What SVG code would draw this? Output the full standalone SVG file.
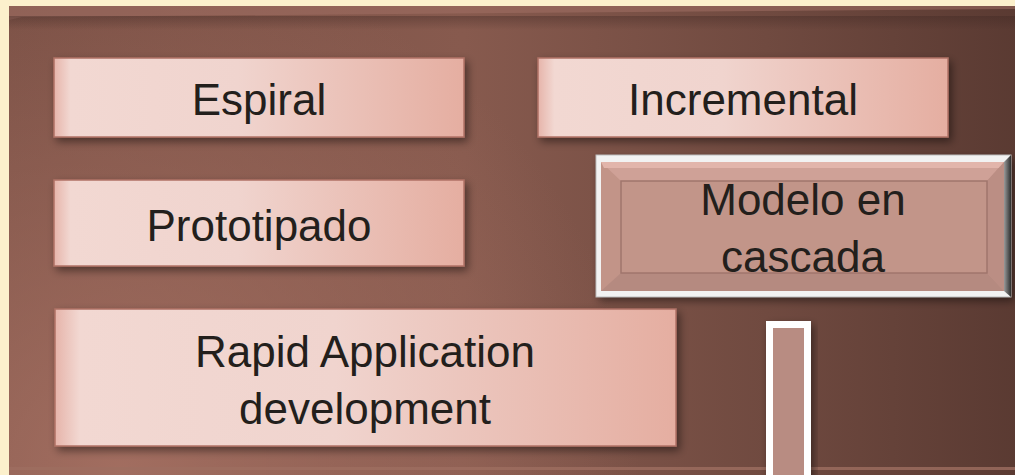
<svg xmlns="http://www.w3.org/2000/svg" width="1015" height="475" viewBox="0 0 1015 475">
  <defs>
    <style>
      .lbl { font-family: "Liberation Sans", Arial, sans-serif; font-size: 44px; fill: #231F1C; text-anchor: middle; }
      .box { fill: url(#boxGrad); stroke: #B07266; stroke-width: 1.5; filter: url(#shadow); }
    </style>
    <linearGradient id="panelGrad" x1="0" y1="0" x2="1" y2="0">
      <stop offset="0" stop-color="#7A5045"/>
      <stop offset="0.45" stop-color="#875A4E"/>
      <stop offset="0.75" stop-color="#704A40"/>
      <stop offset="1" stop-color="#5A3A32"/>
    </linearGradient>
    <radialGradient id="panelGlow" cx="120" cy="470" r="520" gradientUnits="userSpaceOnUse">
      <stop offset="0" stop-color="#A87264" stop-opacity="0.85"/>
      <stop offset="1" stop-color="#A87264" stop-opacity="0"/>
    </radialGradient>
    <linearGradient id="panelTopShade" x1="0" y1="0" x2="0" y2="1">
      <stop offset="0" stop-color="#3A2420" stop-opacity="0.35"/>
      <stop offset="1" stop-color="#3A2420" stop-opacity="0"/>
    </linearGradient>
    <linearGradient id="boxGrad" x1="0" y1="0" x2="1" y2="0">
      <stop offset="0" stop-color="#E6B4AA"/>
      <stop offset="0.04" stop-color="#F2D8D2"/>
      <stop offset="0.45" stop-color="#F0D4CE"/>
      <stop offset="1" stop-color="#E5AEA1"/>
    </linearGradient>
    <linearGradient id="rightEdge" x1="0" y1="0" x2="1" y2="0">
      <stop offset="0" stop-color="#9A9A9A"/>
      <stop offset="1" stop-color="#2E2E2E"/>
    </linearGradient>
    <filter id="shadow" x="-10%" y="-10%" width="125%" height="130%">
      <feDropShadow dx="3" dy="4" stdDeviation="4" flood-color="#000" flood-opacity="0.45"/>
    </filter>
  </defs>

  <!-- background -->
  <rect x="0" y="0" width="1015" height="475" fill="#FCF0CC"/>
  <g id="panel">
    <rect x="9" y="6" width="1010" height="475" fill="url(#panelGrad)"/>
    <rect x="9" y="6" width="1010" height="475" fill="url(#panelGlow)"/>
    <rect x="9" y="6" width="120" height="475" fill="url(#panelTopShade)" opacity="0"/>
    <polygon points="9,6 1015,6 1015,9 22,17 9,20" fill="#A07064" opacity="0.55"/>
    <rect x="9" y="16" width="1006" height="14" fill="url(#panelTopShade)"/>
    <rect x="9" y="467" width="1006" height="3" fill="#9E6E60" opacity="0.8"/>
  </g>

  <g id="node-espiral">
    <rect class="box" x="54" y="58" width="410" height="79"/>
    <text class="lbl" x="259" y="115">Espiral</text>
  </g>

  <g id="node-incremental">
    <rect class="box" x="538" y="58" width="410" height="79"/>
    <text class="lbl" x="743" y="115">Incremental</text>
  </g>

  <g id="node-prototipado">
    <rect class="box" x="54" y="180" width="410" height="86"/>
    <text class="lbl" x="259" y="241">Prototipado</text>
  </g>

  <g id="node-rapid">
    <rect class="box" x="55" y="309" width="621" height="137"/>
    <text class="lbl" x="365" y="367">Rapid Application</text>
    <text class="lbl" x="365" y="424">development</text>
  </g>

  <g id="node-cascada">
    <rect x="596" y="155" width="415" height="142" fill="#F2F2F2" filter="url(#shadow)"/>
    <rect x="596" y="155" width="415" height="142" fill="none" stroke="#BDBDBD" stroke-width="1"/>
    <polygon points="1004,162 1011,155 1011,297 1004,291" fill="url(#rightEdge)"/>
    <rect x="601" y="162" width="403" height="129" fill="#C29488"/>
    <polygon points="601,162 1004,162 987,181 621,181" fill="#CFA197"/>
    <polygon points="601,162 1004,162 1001,168 604,168" fill="#E2B5AB"/>
    <polygon points="601,291 1004,291 987,273 621,273" fill="#B58A80"/>
    <polygon points="1004,162 1004,291 987,273 987,181" fill="#BB8E84"/>
    <rect x="621" y="181" width="366" height="92" fill="#C29589" stroke="#A0766C" stroke-width="1.5"/>
    <text class="lbl" x="803" y="215">Modelo en</text>
    <text class="lbl" x="803" y="272">cascada</text>
  </g>

  <g id="node-bar">
    <rect x="766" y="321" width="45" height="160" fill="#FFFFFF" filter="url(#shadow)"/>
    <rect x="773" y="328" width="31" height="150" fill="#B88C82"/>
  </g>

  <g id="connectors"></g>
</svg>
